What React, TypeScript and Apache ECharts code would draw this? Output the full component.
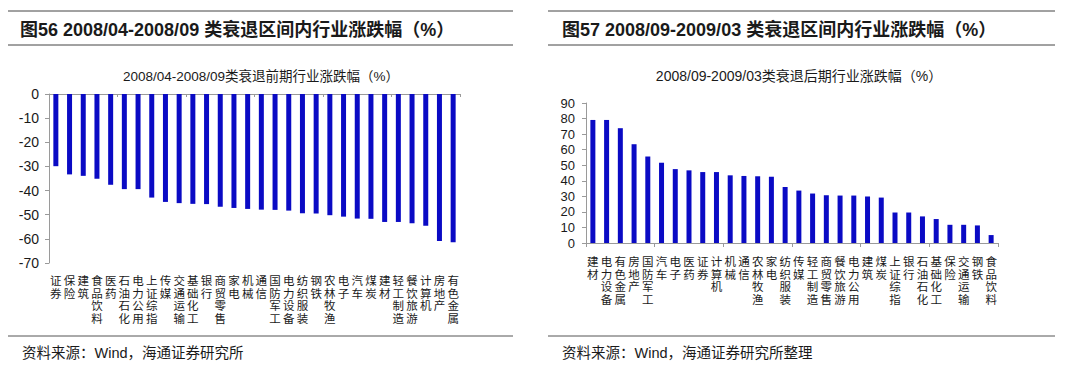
import React, { useEffect, useRef } from "react";
import * as echarts from "echarts";

const leftCategories = [
  "证券", "保险", "建筑", "食品饮料", "医药", "石油石化", "电力公用", "上证综指", "传媒", "交通运输",
  "基础化工", "银行", "商贸零售", "家电", "机械", "通信", "国防军工", "电力设备", "纺织服装", "钢铁",
  "农林牧渔", "电子", "汽车", "煤炭", "建材", "轻工制造", "餐饮旅游", "计算机", "房地产", "有色金属",
];
const leftValues = [
  -29.9, -33.3, -33.9, -35.1, -37.6, -39.4, -39.4, -42.9, -44.7, -45.2,
  -45.5, -45.6, -46.7, -47.2, -47.6, -47.9, -48.0, -48.3, -49.4, -49.5,
  -50.2, -50.8, -51.6, -51.7, -53.0, -53.0, -53.5, -54.6, -60.9, -61.4,
];
const rightCategories = [
  "建材", "电力设备", "有色金属", "房地产", "国防军工", "汽车", "电子", "医药", "证券", "计算机",
  "机械", "通信", "农林牧渔", "家电", "纺织服装", "传媒", "轻工制造", "商贸零售", "餐饮旅游", "电力公用",
  "建筑", "煤炭", "上证综指", "银行", "石油石化", "基础化工", "保险", "交通运输", "钢铁", "食品饮料",
];
const rightValues = [
  79.1, 79.1, 73.8, 63.5, 55.6, 51.6, 47.5, 46.7, 45.6, 45.6,
  43.5, 43.1, 42.9, 42.6, 36.0, 33.7, 31.8, 30.7, 30.5, 30.5,
  29.9, 29.2, 19.6, 19.6, 17.1, 15.4, 11.7, 11.7, 11.3, 5.1,
];
const leftRange = { min: -70, max: 0, interval: 10 };
const rightRange = { min: 0, max: 90, interval: 10 };

const leftTitle = "图56 2008/04-2008/09 类衰退区间内行业涨跌幅（%）";
const rightTitle = "图57 2008/09-2009/03 类衰退区间内行业涨跌幅（%）";
const leftSubtitle = "2008/04-2008/09类衰退前期行业涨跌幅（%）";
const rightSubtitle = "2008/09-2009/03类衰退后期行业涨跌幅（%）";
const leftSource = "资料来源：Wind，海通证券研究所";
const rightSource = "资料来源：Wind，海通证券研究所整理";

const LATIN = "Arial, 'Liberation Sans', 'Noto Sans CJK SC', sans-serif";
const CJK = "'Noto Sans CJK SC', sans-serif";
const BAR = "#0a0ac4";
const AXIS = "#9a9a9a";
const LINE_H = 12.6;
const MAX_LINES = 4;

export default function App() {
  const ref = useRef<HTMLDivElement>(null);
  useEffect(() => {
    if (!ref.current) return;
    const chart = echarts.init(ref.current, undefined, { renderer: "svg" });

    // one hidden-line category axis per character row of the vertical labels
    const labelAxes = (gridIndex: number, data: string[], baseMargin: number) =>
      Array.from({ length: MAX_LINES }, (_, k) => ({
        gridIndex,
        type: "category",
        data,
        position: "bottom",
        axisLine: { show: false },
        axisTick: { show: false },
        axisLabel: {
          interval: 0,
          formatter: (v: string) => v.charAt(k) || "",
          margin: baseMargin + k * LINE_H,
          fontSize: 11.5,
          lineHeight: 12,
          color: "#1a1a1a",
          fontFamily: CJK,
        },
      }));
    const valueLabel = (size: number, margin: number) => ({
      fontSize: size,
      margin,
      color: "#1a1a1a",
      fontFamily: LATIN,
    });
    const line = (x1: number, y1: number, x2: number, y2: number, color: string) => ({
      type: "line",
      shape: { x1, y1, x2, y2 },
      style: { stroke: color, lineWidth: 1 },
      silent: true,
    });
    const text = (x: number, y: number, t: string, font: string, align = "left") => ({
      type: "text",
      x,
      y,
      style: { text: t, font, fill: "#1a1a1a", textAlign: align, textVerticalAlign: "middle" },
      silent: true,
    });

    const leftLabelAxes = labelAxes(0, leftCategories, 11); // indices 0..3
    const leftLineAxis = {
      gridIndex: 0,
      type: "category",
      data: leftCategories,
      position: "top",
      axisLine: { show: true, lineStyle: { color: AXIS } },
      axisTick: { show: true, inside: true, length: 3, lineStyle: { color: AXIS } },
      axisLabel: { show: false },
    }; // index 4
    const rightLineAxis = {
      gridIndex: 1,
      type: "category",
      data: rightCategories,
      axisLine: { show: true, lineStyle: { color: AXIS } },
      axisTick: { show: true, length: 4, lineStyle: { color: AXIS } },
      axisLabel: { show: false },
    }; // index 5
    const rightLabelAxes = labelAxes(1, rightCategories, 12); // indices 6..9

    const option = {
      animation: false,
      grid: [
        { left: 49, top: 94, width: 411, height: 169 },
        { left: 586, top: 103, width: 412, height: 140 },
      ],
      xAxis: [...leftLabelAxes, leftLineAxis, rightLineAxis, ...rightLabelAxes],
      yAxis: [
        {
          gridIndex: 0,
          type: "value",
          ...leftRange,
          axisLine: { show: true, lineStyle: { color: AXIS } },
          axisTick: { show: true, length: 4, lineStyle: { color: AXIS } },
          splitLine: { show: false },
          axisLabel: valueLabel(14, 10),
        },
        {
          gridIndex: 1,
          type: "value",
          ...rightRange,
          axisLine: { show: true, lineStyle: { color: AXIS } },
          axisTick: { show: true, length: 4, lineStyle: { color: AXIS } },
          splitLine: { show: false },
          axisLabel: valueLabel(13, 11),
        },
      ],
      series: [
        {
          type: "bar",
          xAxisIndex: 4,
          yAxisIndex: 0,
          data: leftValues,
          barWidth: 5,
          itemStyle: { color: BAR },
        },
        {
          type: "bar",
          xAxisIndex: 5,
          yAxisIndex: 1,
          data: rightValues,
          barWidth: 5,
          itemStyle: { color: BAR },
        },
      ],
      graphic: [
        line(8, 11, 513, 11, "#444"),
        line(8, 45, 513, 45, "#444"),
        line(548, 11, 1055, 11, "#444"),
        line(548, 45, 1055, 45, "#444"),
        line(8, 336, 513, 336, "#555"),
        line(548, 336, 1055, 336, "#555"),
        text(20, 30, leftTitle, `bold 18px ${LATIN}`),
        text(562, 30, rightTitle, `bold 18px ${LATIN}`),
        text(261, 76, leftSubtitle, `13.5px ${LATIN}`, "center"),
        text(799, 76, rightSubtitle, `14px ${LATIN}`, "center"),
        text(22, 353, leftSource, `14.5px ${LATIN}`),
        text(562, 353, rightSource, `14.5px ${LATIN}`),
      ],
    };
    chart.setOption(option as any);
    return () => chart.dispose();
  }, []);
  return (
    <div
      ref={ref}
      style={{ position: "fixed", left: 0, top: 0, width: 1080, height: 369, background: "#fff" }}
    />
  );
}
